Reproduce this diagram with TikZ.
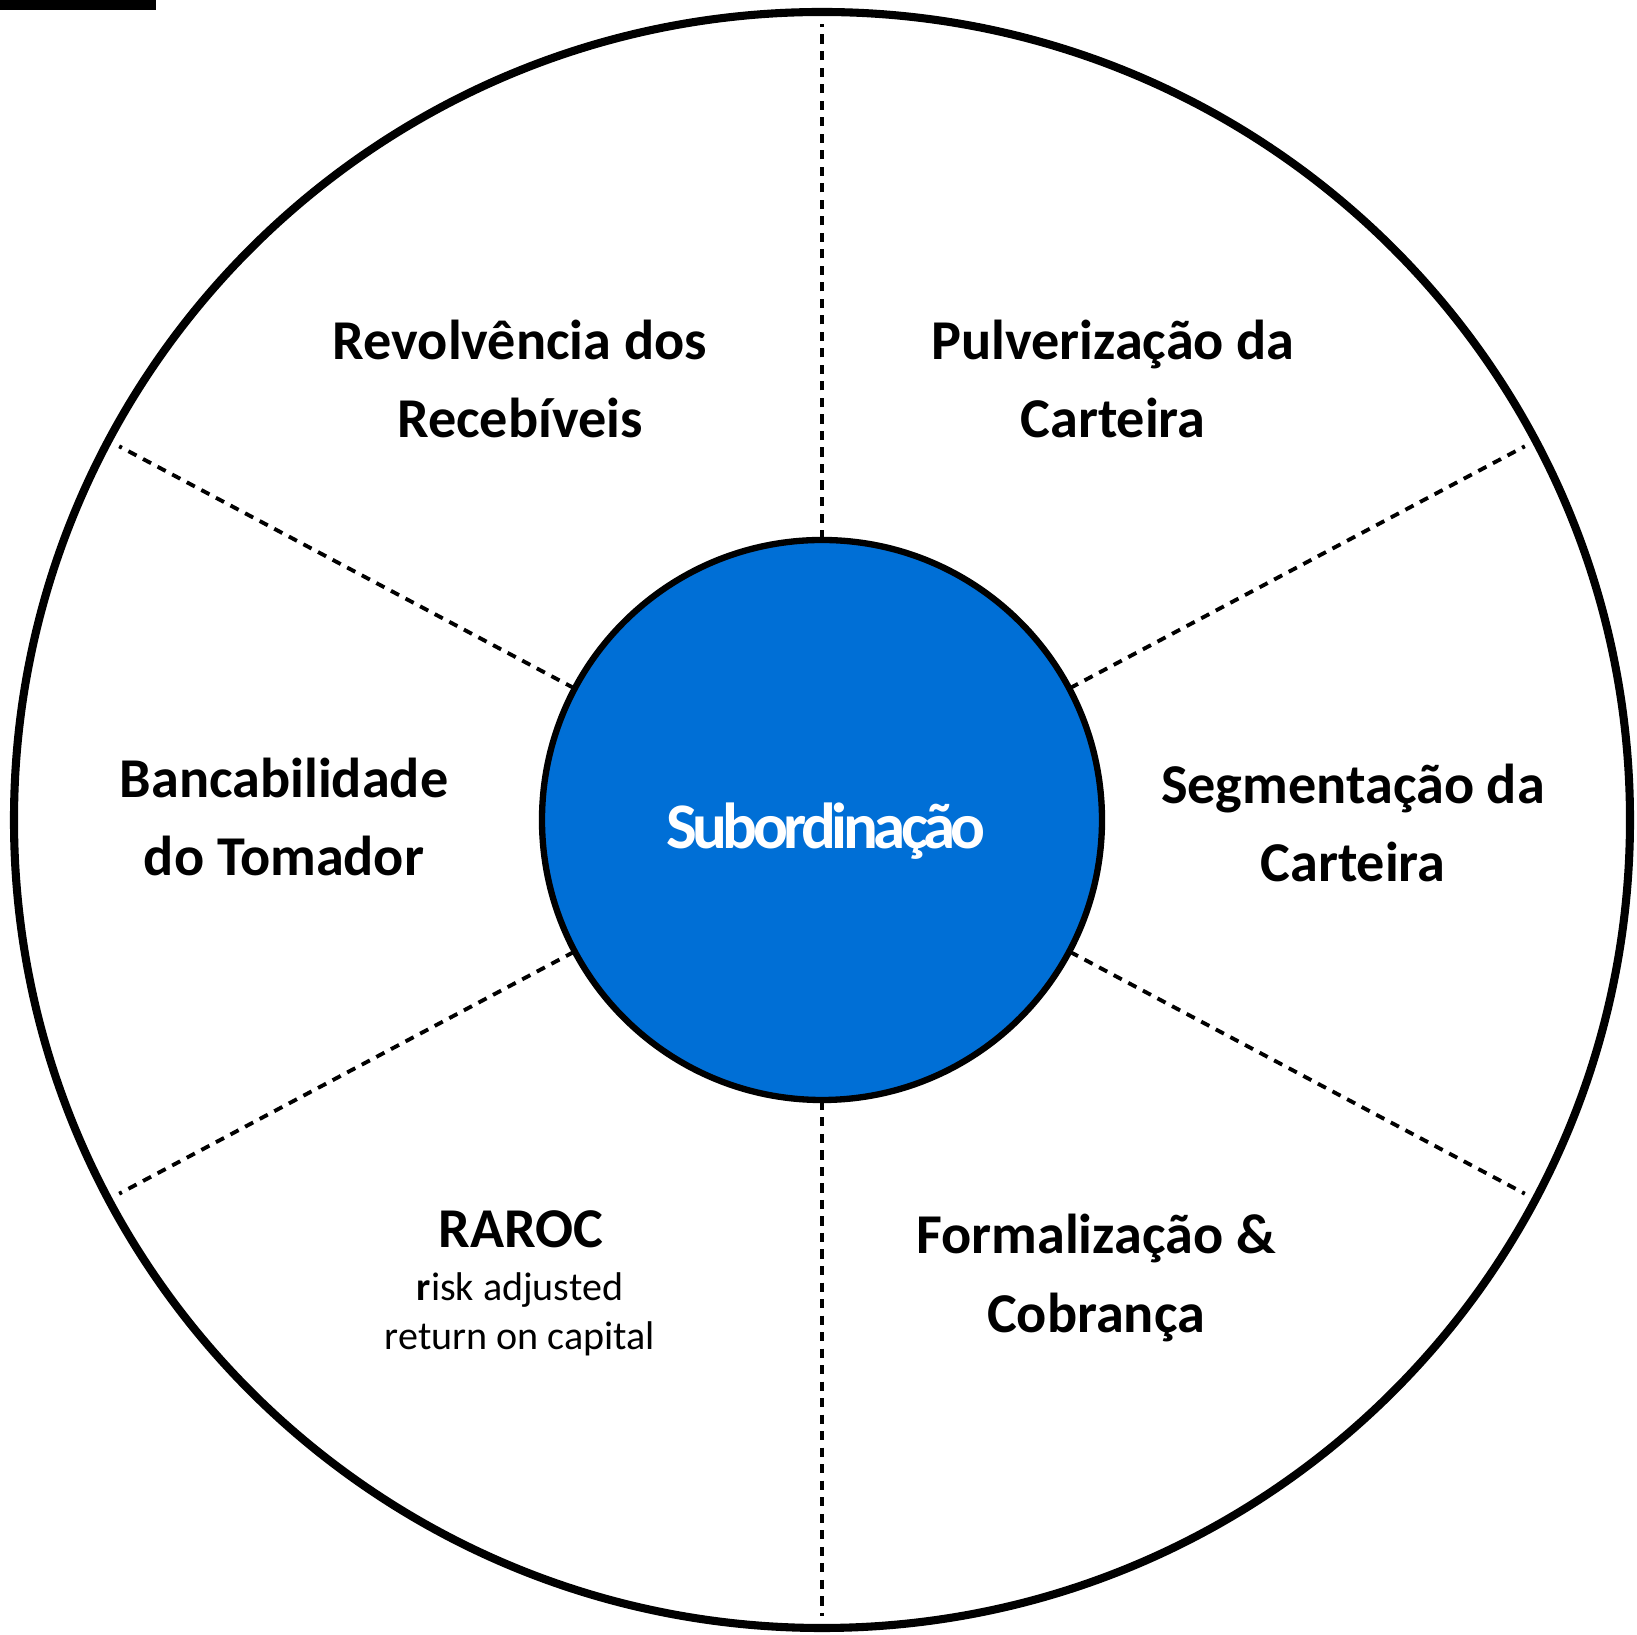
\documentclass[tikz,border=0pt]{standalone}
\usepackage{fontspec}
\setmainfont{Carlito}
\newfontfamily\subfont[LetterSpace=-7]{Carlito}
\definecolor{subblue}{HTML}{006FD6}

\begin{document}
\begin{tikzpicture}[
    divider/.style={dash pattern=on 2.6pt off 2.1pt, line width=1.1pt},
    sector/.style={align=center, font=\bfseries\fontsize{16}{22.2}\selectfont}
]
    \useasboundingbox (-8.22,-8.15) rectangle (8.15,8.20);
    \fill (-8.22,8.20) rectangle (-6.66,8.10);

    %outer ring
    \draw[line width=2.3pt] (0,0) circle [radius=8.08];

    %dividers
    \foreach \a in {90,28,-28,-90,208,152}
        \draw[divider] (0,0) -- (\a:7.96);

    %centre
    \node[circle, draw, line width=1.8pt, fill=subblue, minimum size=5.6cm] (sub) at (0,0) {};
    \node[text=white, font=\subfont\bfseries\fontsize{18.5}{22}\selectfont] (subtxt) at (0.04,-0.11) {Subordinação};

    %labels
    \node[sector] (revolv) at (-3.02,4.41) {Revolvência dos\\Recebíveis};
    \node[sector] (pulver) at (2.91,4.41) {Pulverização da\\Carteira};
    \node[sector] (bancab) at (-5.38,0.03) {Bancabilidade\\do Tomador};
    \node[sector] (segment) at (5.31,-0.03) {Segmentação da\\Carteira};
    \node[sector] (formal) at (2.74,-4.58) {Formalização \&\\Cobrança};
    \node[font=\bfseries\fontsize{16}{19}\selectfont] (raroc) at (-3.01,-4.09) {RAROC};
    \node[align=center, font=\fontsize{11.4}{13.9}\selectfont] (rarocsub) at (-3.02,-4.94) {\textbf{r}isk adjusted\\return on capital};
\end{tikzpicture}
\end{document}
